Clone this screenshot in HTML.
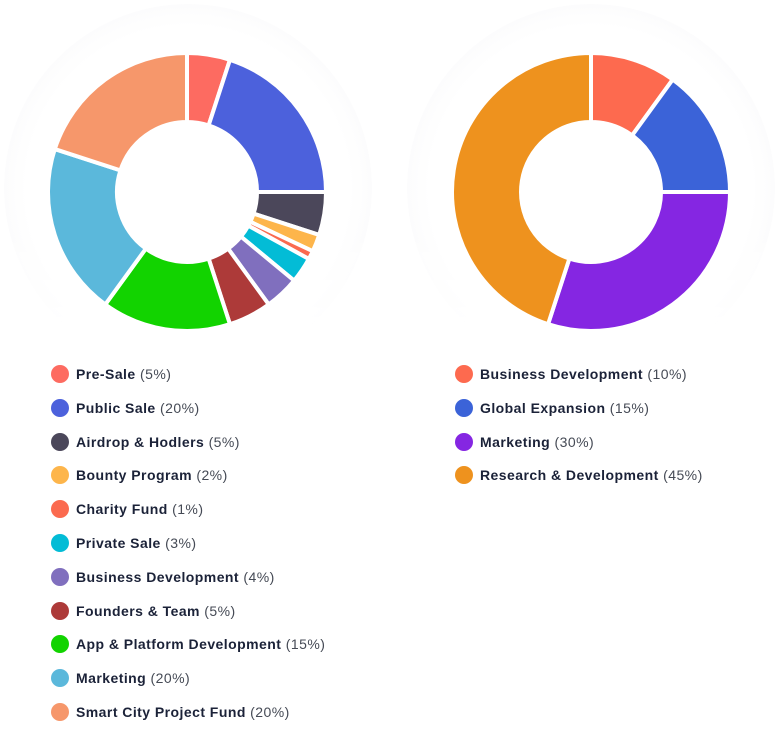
<!DOCTYPE html>
<html><head><meta charset="utf-8"><style>
body{margin:0;width:777px;height:733px;background:#fff;font-family:"Liberation Sans",sans-serif;overflow:hidden;position:relative}
.glow{position:absolute;border-radius:50%;background:radial-gradient(circle,#fff 62%,#f9f9fa 80%,#f2f2f4 94%,#f7f7f8 98%,#fff 100%);-webkit-mask-image:linear-gradient(to bottom,#000 0%,#000 60%,transparent 90%);mask-image:linear-gradient(to bottom,#000 0%,#000 60%,transparent 90%)}
svg{position:absolute;left:0;top:0}
.leg{position:absolute;font-size:14px;color:#1b2238;letter-spacing:0.45px}
.leg div{height:33.8px;position:relative;white-space:nowrap}
.leg span.dot{position:absolute;left:0;top:1px;width:18px;height:18px;border-radius:50%}
.leg b{position:absolute;left:25px;top:2px}
.leg b i{font-style:normal;font-weight:normal;color:#454a55}
</style></head><body>
<div class="glow" style="left:4px;top:4px;width:368px;height:368px"></div>
<div class="glow" style="left:407px;top:4px;width:368px;height:368px"></div>
<svg id="s" width="777" height="733"></svg>
<div class="leg" id="legL" style="left:51px;top:364px"></div>
<div class="leg" id="legR" style="left:455px;top:364px"></div>
<script>
const leftLabels=["Pre-Sale","Public Sale","Airdrop & Hodlers","Bounty Program","Charity Fund","Private Sale","Business Development","Founders & Team","App & Platform Development","Marketing","Smart City Project Fund"];
const leftValues=[5,20,5,2,1,3,4,5,15,20,20];
const leftColors=["#fd6b61","#4c61dc","#4b475a","#fdb54b","#fb6a4f","#03bcd6","#806fbe","#ad3a39","#12d300","#5bb8db","#f6976b"];
const rightLabels=["Business Development","Global Expansion","Marketing","Research & Development"];
const rightValues=[10,15,30,45];
const rightColors=["#fd6a4f","#3b63d8","#8526e2","#ee921e"];
const NS="http://www.w3.org/2000/svg";
const svg=document.getElementById('s');
function pt(cx,cy,r,a){return [cx+r*Math.sin(a),cy-r*Math.cos(a)];}
function donut(cx,cy,R,r,vals,cols,labels,prefix){
  const tot=vals.reduce((a,b)=>a+b,0);let a0=0;
  vals.forEach((v,i)=>{
    const a1=a0+v/tot*2*Math.PI;const lg=(a1-a0)>Math.PI?1:0;
    const p1=pt(cx,cy,R,a0),p2=pt(cx,cy,R,a1),p3=pt(cx,cy,r,a1),p4=pt(cx,cy,r,a0);
    const p=document.createElementNS(NS,'path');
    p.setAttribute('d',`M${p1}A${R},${R} 0 ${lg} 1 ${p2}L${p3}A${r},${r} 0 ${lg} 0 ${p4}Z`);
    p.setAttribute('fill',cols[i]);p.setAttribute('stroke','#fff');p.setAttribute('stroke-width','4');
    
    
    svg.appendChild(p);a0=a1;
  });
}
donut(187,192,139,70,leftValues,leftColors,leftLabels,'left');
donut(591,192,139,70,rightValues,rightColors,rightLabels,'right');
function legend(id,labels,vals,cols){
  const el=document.getElementById(id);
  labels.forEach((l,i)=>{
    const d=document.createElement('div');
    
    
    const dot=document.createElement('span');dot.className='dot';dot.style.background=cols[i];
    
    
    const b=document.createElement('b');b.textContent=l+' ';
    const it=document.createElement('i');it.textContent='('+vals[i]+'%)';b.appendChild(it);
    d.appendChild(dot);d.appendChild(b);el.appendChild(d);
  });
}
legend('legL',leftLabels,leftValues,leftColors);
legend('legR',rightLabels,rightValues,rightColors);
</script>
</body></html>
